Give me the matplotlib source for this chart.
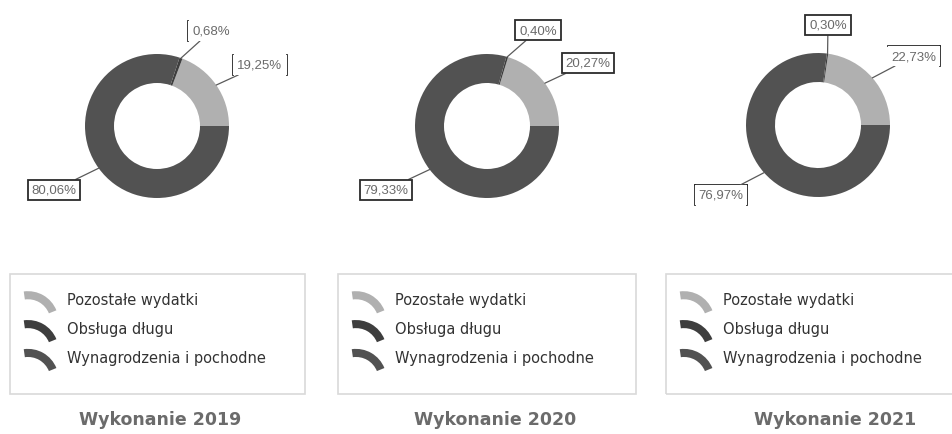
import matplotlib
matplotlib.use("Agg")
import matplotlib.pyplot as plt
from matplotlib.patches import Wedge, Rectangle, Patch
from matplotlib.legend_handler import HandlerBase
from matplotlib.legend import Legend
from matplotlib.lines import Line2D
import numpy as np

# ---- data ----
categories = ["Pozostałe wydatki", "Obsługa długu", "Wynagrodzenia i pochodne"]
years = ["Wykonanie 2019", "Wykonanie 2020", "Wykonanie 2021"]
values_2019 = [19.25, 0.68, 80.06]
values_2020 = [20.27, 0.40, 79.33]
values_2021 = [22.73, 0.30, 76.97]
labels_2019 = ["19,25%", "0,68%", "80,06%"]
labels_2020 = ["20,27%", "0,40%", "79,33%"]
labels_2021 = ["22,73%", "0,30%", "76,97%"]

# ---- style / layout ----
colors = ["#b0b0b0", "#3e3e3e", "#525252"]
W, H = 953, 435
R = 72
RING = 29
centers = [(157, 127), (487, 127), (818, 126)]
# label text centres (pixel coords from top-left)
label_pos = [
    [(260, 66), (211, 32), (54, 191)],
    [(588, 64), (538, 31), (386, 191)],
    [(914, 57), (828, 26), (721, 196)],
]
# which sides of the label box are drawn: l, r, t, b
box_sides = [
    ["lr", "l", "lrtb"],
    ["lrtb", "lrtb", "lrtb"],
    ["tr", "lrtb", "lrt"],
]
legend_boxes = [(10, 275, 295, 120), (338, 275, 298, 120), (666, 275, 300, 120)]
title_x = [160, 495, 835]
title_y = 420

fig = plt.figure(figsize=(W / 100, H / 100), dpi=100)
ax = fig.add_axes([0, 0, 1, 1])
ax.set_axis_off()

def fy(y):
    return H - y

class ArcHandler(HandlerBase):
    def create_artists(self, legend, orig_handle, xdescent, ydescent,
                       width, height, fontsize, trans):
        r = width * 1.05
        cx = -xdescent + width * 0.0
        cy = -ydescent + height * 1.1 - r
        w = Wedge((cx, cy), r, 22, 98, width=height * 0.62,
                  facecolor=orig_handle.get_facecolor(), edgecolor="none",
                  transform=trans)
        return [w]

all_values = [values_2019, values_2020, values_2021]
all_labels = [labels_2019, labels_2020, labels_2021]

annots = []
for p in range(3):
    cx, cy = centers[p]
    wedges, _ = ax.pie(all_values[p], colors=colors, startangle=0,
                       counterclock=True, radius=R, center=(cx, fy(cy)),
                       wedgeprops=dict(width=RING, linewidth=0))
    for i, w in enumerate(wedges):
        ang = np.deg2rad((w.theta1 + w.theta2) / 2)
        pt = (cx + R * np.cos(ang), fy(cy) + R * np.sin(ang))
        tx, ty = label_pos[p][i]
        sides = box_sides[p][i]
        ec = "#2b2b2b" if sides == "lrtb" else "none"
        a = ax.annotate(all_labels[p][i], xy=pt, xytext=(tx, fy(ty)),
                        ha="center", va="center", fontsize=9.5,
                        family="Liberation Sans", color="#6a6a6a",
                        bbox=dict(boxstyle="square,pad=0.3", fc="white",
                                  ec=ec, lw=1.3),
                        arrowprops=dict(arrowstyle="-", color="#5a5a5a",
                                        lw=0.9, shrinkA=0, shrinkB=0))
        annots.append((a, sides))

    # legend frame
    lx, ly, lw_, lh = legend_boxes[p]
    ax.add_patch(Rectangle((lx, fy(ly + lh)), lw_, lh, fill=False,
                           edgecolor="#d9d9d9", lw=1.2))
    handles = [Patch(facecolor=c) for c in colors]
    leg = Legend(ax, handles, categories, loc="upper left",
                 bbox_to_anchor=(lx + 18, fy(ly + 18)),
                 bbox_transform=ax.transData, frameon=False,
                 fontsize=10.5, handlelength=2.0, handleheight=1.0,
                 handletextpad=0.7, labelspacing=0.95, borderpad=0,
                 borderaxespad=0,
                 handler_map={Patch: ArcHandler()},
                 labelcolor="#333333")
    ax.add_artist(leg)
    ax.text(title_x[p], fy(title_y), years[p], ha="center", va="center",
            fontsize=12.5, fontweight="bold", color="#6b6b6b")

ax.set_xlim(0, W)
ax.set_ylim(0, H)
ax.set_aspect("equal")

fig.canvas.draw()
inv = ax.transData.inverted()
for a, sides in annots:
    if sides == "lrtb":
        continue
    bb = a.get_bbox_patch().get_window_extent()
    (x0, y0), (x1, y1) = inv.transform([(bb.x0, bb.y0), (bb.x1, bb.y1)])
    seg = {"l": ([x0, x0], [y0, y1]), "r": ([x1, x1], [y0, y1]),
           "t": ([x0, x1], [y1, y1]), "b": ([x0, x1], [y0, y0])}
    for s in sides:
        xs, ys = seg[s]
        ax.add_line(Line2D(xs, ys, color="#2b2b2b", lw=1.3))

fig.savefig("out.png", dpi=100, facecolor="white")
